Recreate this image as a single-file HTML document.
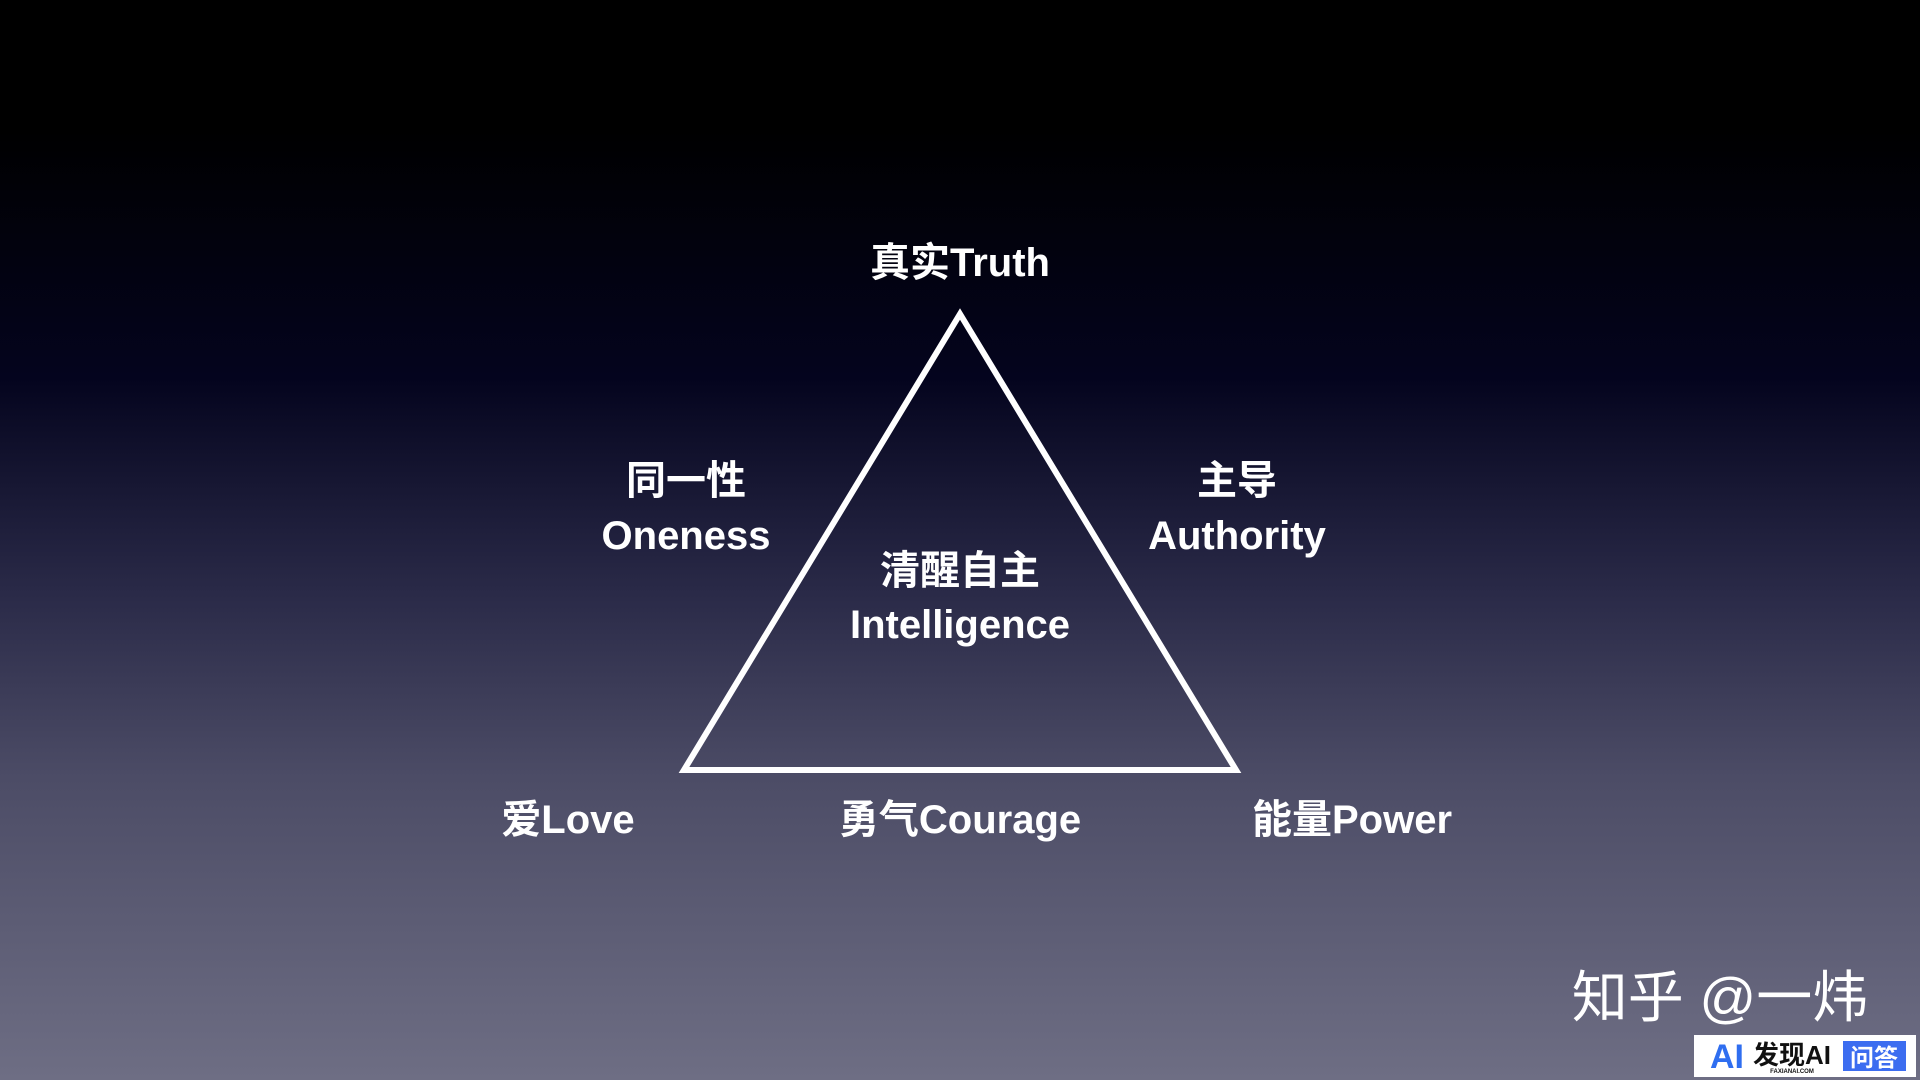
<!DOCTYPE html>
<html><head><meta charset="utf-8"><style>
html,body{margin:0;padding:0;width:1920px;height:1080px;overflow:hidden}
body{background:linear-gradient(to bottom,#000 0%,#000 12%,#04041e 35%,#2a2a48 55%,#4c4c66 72%,#6e6e84 100%)}
svg{position:absolute;left:0;top:0}
text{font-family:"Liberation Sans","Noto Sans CJK SC",sans-serif;font-weight:bold;fill:#fff;text-anchor:middle}
</style></head><body>
<svg width="1920" height="1080" viewBox="0 0 1920 1080">
<polygon points="960,314 684,770 1236,770" fill="none" stroke="#fff" stroke-width="6" stroke-linejoin="miter"/>
<g font-size="40">
<text x="960" y="276">真实Truth</text>
<text x="686" y="494">同一性</text>
<text x="686" y="549">Oneness</text>
<text x="1237" y="494">主导</text>
<text x="1237" y="549">Authority</text>
<text x="960" y="584">清醒自主</text>
<text x="960" y="638">Intelligence</text>
<text x="568" y="833">爱Love</text>
<text x="960" y="833">勇气Courage</text>
<text x="1352" y="833">能量Power</text>
</g>
<text x="1720" y="1017" font-size="56" style="font-weight:normal" fill="#fff" stroke="#222" stroke-width="0">知乎 @一炜</text>
<rect x="1694" y="1035" width="222" height="42" fill="#fff"/>
<text x="1727" y="1068" font-size="34" fill="#2f6ef0" style="fill:#2f6ef0">AI</text>
<text x="1792" y="1064" font-size="26" style="fill:#111">发现AI</text>
<text x="1792" y="1073" font-size="6" style="fill:#111">FAXIANAI.COM</text>
<rect x="1843" y="1041" width="63" height="30" fill="#3c6df0"/>
<text x="1874" y="1066" font-size="24">问答</text>
</svg>
</body></html>
